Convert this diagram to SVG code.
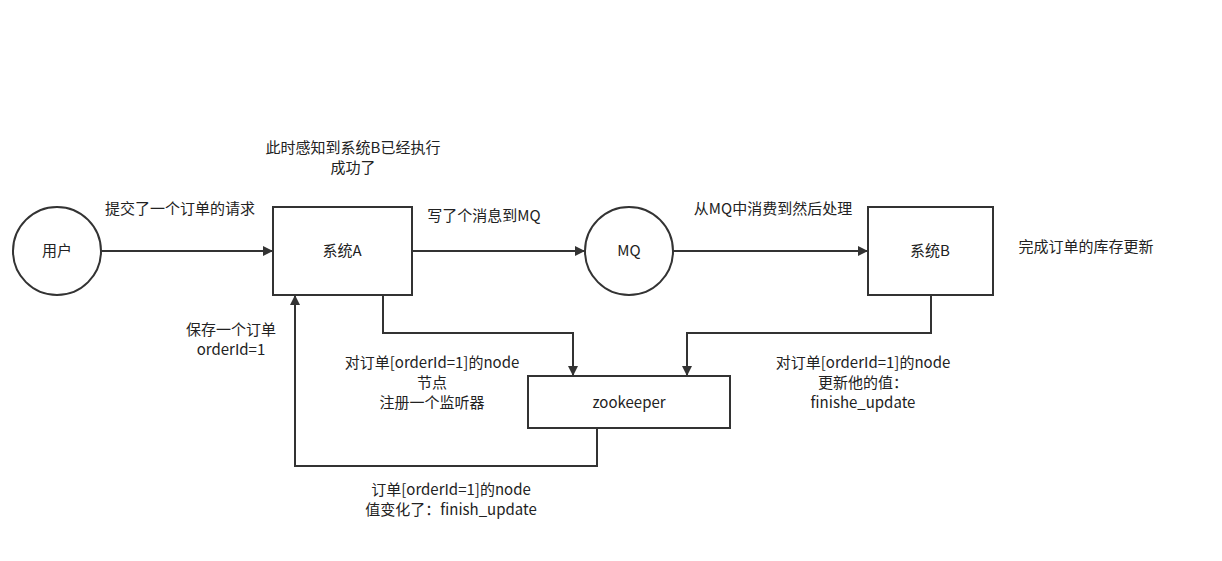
<svg xmlns="http://www.w3.org/2000/svg" width="1222" height="561" viewBox="0 0 1222 561">
<style>
.n{fill:#fff;stroke:#333;stroke-width:2}
.c{fill:none;stroke:#333;stroke-width:2;marker-end:url(#a)}
text{font-family:"Noto Sans CJK SC","Liberation Sans",sans-serif;font-size:15px;fill:#222;text-anchor:middle}
</style>
<defs><marker id="a" markerWidth="10" markerHeight="10" refX="9" refY="5" orient="auto" markerUnits="userSpaceOnUse"><path d="M0,0 L10,5 L0,10 Z" fill="#333"/></marker></defs>
<rect width="1222" height="561" fill="#fff"/>
<g id="connectors">
<path class="c" d="M101,251 H272"/>
<path class="c" d="M412,251 H584"/>
<path class="c" d="M673,251 H867"/>
<path class="c" d="M383,295 V333 H573 V375"/>
<path class="c" d="M931,295 V333 H687 V375"/>
<path class="c" d="M597,428 V466 H295 V296"/>
</g>
<g id="user"><circle class="n" cx="57" cy="251" r="44"/><text x="57" y="256">用户</text></g>
<g id="sysA"><rect class="n" x="273" y="207" width="139" height="88"/><text x="342" y="256">系统A</text></g>
<g id="mq"><circle class="n" cx="629" cy="251" r="44"/><text x="629" y="256">MQ</text></g>
<g id="sysB"><rect class="n" x="868" y="207" width="125" height="88"/><text x="930" y="256">系统B</text></g>
<g id="zk"><rect class="n" x="528" y="376" width="202" height="52"/><text x="629" y="408">zookeeper</text></g>
<g id="labels">
<text x="180" y="214">提交了一个订单的请求</text>
<text x="353" y="153">此时感知到系统B已经执行</text>
<text x="353" y="173">成功了</text>
<text x="484" y="221">写了个消息到MQ</text>
<text x="773" y="214">从MQ中消费到然后处理</text>
<text x="1086" y="252">完成订单的库存更新</text>
<text x="231" y="335">保存一个订单</text>
<text x="231" y="355">orderId=1</text>
<text x="432" y="368">对订单[orderId=1]的node</text>
<text x="432" y="388">节点</text>
<text x="432" y="408">注册一个监听器</text>
<text x="863" y="368">对订单[orderId=1]的node</text>
<text x="863" y="388">更新他的值：</text>
<text x="863" y="408">finishe_update</text>
<text x="451" y="495">订单[orderId=1]的node</text>
<text x="451" y="515">值变化了：finish_update</text>
</g>
</svg>
